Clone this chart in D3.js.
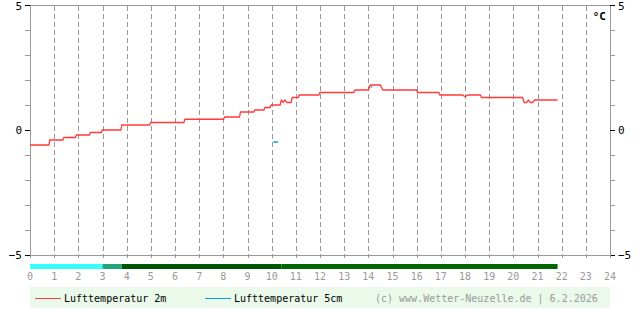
<!DOCTYPE html>
<html>
<head>
<meta charset="utf-8">
<script src="https://cdn.jsdelivr.net/npm/d3@7"></script>
<style>
  body { margin: 0; background: #fff; }
  text { font-family: "DejaVu Sans Mono", monospace; }
</style>
</head>
<body>
<div id="chart"></div>
<script>
// Hours of the day and tick labels
var hourTicks = d3.range(0, 25);
var tempTicks = [-5, 0, 5];

// Lufttemperatur 2m: [hour, degC]
var temp2m = [
  [0.00, -0.6], [0.78, -0.6], [0.82, -0.4], [1.36, -0.4], [1.40, -0.3],
  [1.88, -0.3], [1.92, -0.2], [2.46, -0.2], [2.50, -0.1], [2.95, -0.1],
  [2.99, 0.0], [3.76, 0.0], [3.80, 0.2], [4.95, 0.2], [4.99, 0.3],
  [6.37, 0.3], [6.41, 0.43], [8.01, 0.43], [8.05, 0.52], [8.67, 0.52],
  [8.71, 0.72], [9.26, 0.72], [9.30, 0.8], [9.68, 0.8], [9.72, 0.9],
  [9.94, 0.9], [9.98, 1.0], [10.35, 1.0], [10.40, 1.2], [10.47, 1.1],
  [10.55, 1.2], [10.63, 1.1], [10.80, 1.1], [10.85, 1.3], [11.10, 1.3],
  [11.14, 1.4], [11.95, 1.4], [12.00, 1.5], [13.40, 1.5], [13.45, 1.6],
  [14.00, 1.6], [14.08, 1.8], [14.50, 1.8], [14.60, 1.6], [16.00, 1.6],
  [16.04, 1.5], [16.92, 1.5], [16.96, 1.4], [17.90, 1.4], [18.00, 1.33],
  [18.12, 1.4], [18.64, 1.4], [18.68, 1.3], [20.38, 1.3], [20.45, 1.1],
  [20.55, 1.1], [20.62, 1.2], [20.70, 1.1], [20.80, 1.1], [20.88, 1.2],
  [21.83, 1.2]
];

// Lufttemperatur 5cm: only short pieces (null = gap)
var temp5cm = [
  [10.07, -0.48], [10.26, -0.48], [10.30, null],
  [14.10, 1.72], [14.16, 1.72]
];

// Status bar bands: [from hour, to hour, colour]
var bandStart = [0, 3.0, 3.8, 10.4];
var bandEnd = [3.0, 3.8, 10.4, 21.83];
var bandColor = ["#33ffff", "#1fa67a", "#005500", "#006600"];

var width = 640, height = 315;
var plotLeft = 30, plotRight = 610, plotTop = 5, plotBottom = 255;

var svg = d3.select("#chart").append("svg")
  .attr("width", width)
  .attr("height", height);

var x = d3.scaleLinear().domain([0, 24]).range([plotLeft, plotRight]);
var y = d3.scaleLinear().domain([-5, 5]).range([plotBottom, plotTop]);

//Dashed hour grid lines
svg.append("g").selectAll("line")
  .data(hourTicks.slice(1, 24))
  .enter().append("line")
  .attr("x1", function(d) { return Math.round(x(d)) + 0.5; })
  .attr("x2", function(d) { return Math.round(x(d)) + 0.5; })
  .attr("y1", plotTop + 1)
  .attr("y2", plotBottom + 3)
  .attr("stroke", "#999")
  .attr("stroke-dasharray", "5,3");

//Frame
var frame = svg.append("g").attr("stroke", "#999").attr("shape-rendering", "crispEdges");
frame.append("line").attr("x1", plotLeft).attr("x2", plotRight + 5).attr("y1", plotTop).attr("y2", plotTop);
frame.append("line").attr("x1", plotLeft).attr("x2", plotRight).attr("y1", plotBottom).attr("y2", plotBottom);
frame.append("line").attr("x1", plotLeft).attr("x2", plotLeft).attr("y1", plotTop).attr("y2", plotBottom);
frame.append("line").attr("x1", plotRight).attr("x2", plotRight).attr("y1", plotTop).attr("y2", plotBottom);

//Y axes (minor ticks every degree)
var leftAxis = d3.axisLeft(y).tickValues(d3.range(-5, 6)).tickSize(5).tickFormat("");
var rightAxis = d3.axisRight(y).tickValues(d3.range(-5, 6)).tickSize(5).tickFormat("");
[svg.append("g").attr("transform", "translate(" + plotLeft + ",0)").call(leftAxis),
 svg.append("g").attr("transform", "translate(" + plotRight + ",0)").call(rightAxis)]
  .forEach(function(g) {
    g.select(".domain").remove();
    g.selectAll(".tick line")
      .attr("stroke", function(d) { return d % 5 === 0 ? "#000" : "#999"; })
      .attr("shape-rendering", "crispEdges");
  });

//Y labels
function tempLabel(d) { return d < 0 ? "\u2212" + (-d) : d; }
svg.append("g").selectAll("text")
  .data(tempTicks)
  .enter().append("text")
  .attr("x", 22)
  .attr("y", function(d) { return Math.max(y(d) + 4, 10); })
  .attr("text-anchor", "end")
  .attr("font-size", 11)
  .attr("fill", "#000")
  .text(tempLabel);
svg.append("g").selectAll("text")
  .data(tempTicks)
  .enter().append("text")
  .attr("x", 618)
  .attr("y", function(d) { return Math.max(y(d) + 4, 10); })
  .attr("font-size", 11)
  .attr("fill", "#000")
  .text(tempLabel);

//Unit
svg.append("text")
  .attr("x", 606).attr("y", 20)
  .attr("text-anchor", "end")
  .attr("font-family", "DejaVu Sans")
  .attr("font-weight", "bold")
  .attr("font-size", 11)
  .text("\u00b0C");

//X tick marks and labels
svg.append("g").selectAll("line")
  .data(hourTicks)
  .enter().append("line")
  .attr("x1", function(d) { return Math.round(x(d)) + 0.5; })
  .attr("x2", function(d) { return Math.round(x(d)) + 0.5; })
  .attr("y1", plotBottom)
  .attr("y2", plotBottom + 3)
  .attr("stroke", "#999");
svg.append("g").selectAll("text")
  .data(hourTicks)
  .enter().append("text")
  .attr("x", function(d) { return x(d); })
  .attr("y", 280)
  .attr("text-anchor", "middle")
  .attr("font-size", 10)
  .attr("fill", "#999")
  .text(function(d) { return d; });

//Status bar
svg.append("g").selectAll("rect")
  .data(bandStart)
  .enter().append("rect")
  .attr("x", function(d) { return x(d); })
  .attr("width", function(d, i) { return x(bandEnd[i]) - x(d); })
  .attr("y", 264)
  .attr("height", 5)
  .attr("fill", function(d, i) { return bandColor[i]; });

//Temperature lines
var line = d3.line()
  .defined(function(d) { return d[1] !== null; })
  .x(function(d) { return x(d[0]); })
  .y(function(d) { return y(d[1]); });

svg.append("path")
  .datum(temp5cm)
  .attr("d", line)
  .attr("fill", "none")
  .attr("stroke", "#0aa0dc")
  .attr("stroke-width", 1.3);

svg.append("path")
  .datum(temp2m)
  .attr("d", line)
  .attr("fill", "none")
  .attr("stroke", "#ff3b3b")
  .attr("stroke-width", 1.3);

//Legend
var legend = svg.append("g");
legend.append("rect")
  .attr("x", 30).attr("y", 287)
  .attr("width", 580).attr("height", 21)
  .attr("fill", "#ebf9eb");
legend.append("line")
  .attr("x1", 35).attr("x2", 61).attr("y1", 298.5).attr("y2", 298.5)
  .attr("stroke", "#ff3b3b");
legend.append("text")
  .attr("x", 64).attr("y", 302)
  .attr("font-size", 10)
  .text("Lufttemperatur 2m");
legend.append("line")
  .attr("x1", 205).attr("x2", 231).attr("y1", 298.5).attr("y2", 298.5)
  .attr("stroke", "#0aa0dc");
legend.append("text")
  .attr("x", 234).attr("y", 302)
  .attr("font-size", 10)
  .text("Lufttemperatur 5cm");
legend.append("text")
  .attr("x", 375).attr("y", 302)
  .attr("font-size", 10)
  .attr("fill", "#999")
  .text("(c) www.Wetter-Neuzelle.de | 6.2.2026");
</script>
</body>
</html>
